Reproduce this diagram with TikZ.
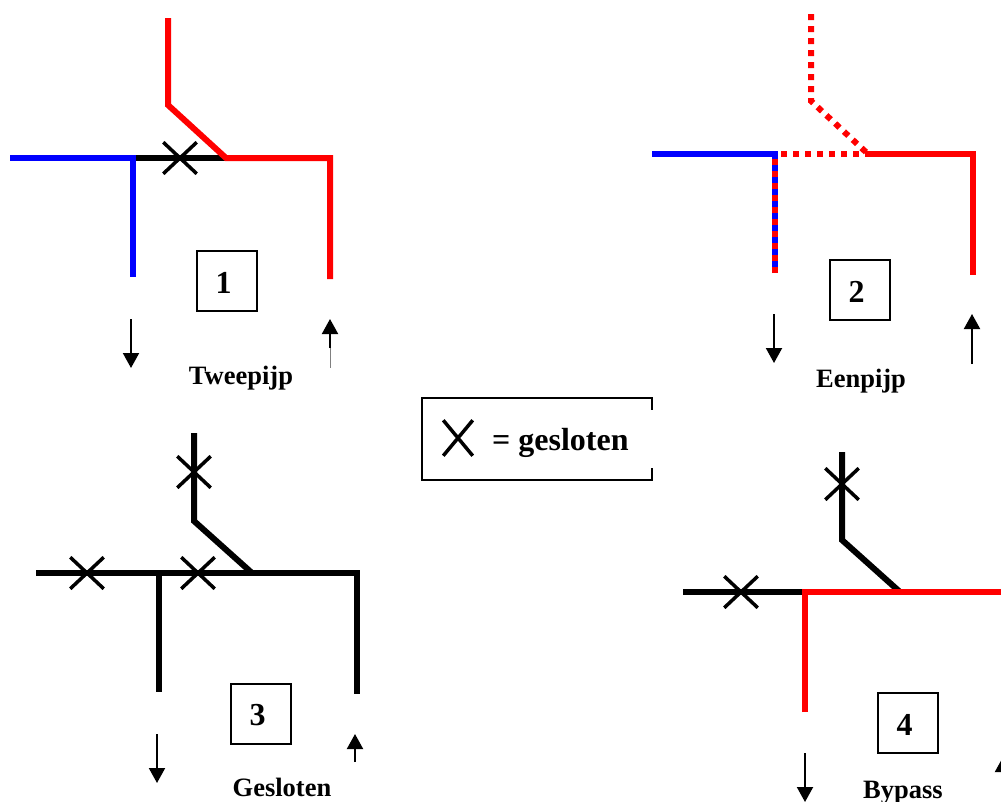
\documentclass[tikz,border=0pt]{standalone}
\usepackage{fontspec}
\setmainfont{Liberation Serif}
\usetikzlibrary{arrows.meta, shapes.misc, calc}
\tikzset{
    pipe/.style = {line width=6pt},
    pipe_blue/.style = {pipe, draw=blue},
    pipe_red/.style = {pipe, draw=red},
    pipe_black/.style = {pipe, draw=black},
    pipe_dots/.style = {pipe, draw=red, dash pattern=on 6pt off 6pt},
    flow/.style = {->, line width=2pt, draw=black},
    closed/.style = {cross out, draw=black, line width=3.5pt, inner sep=0pt,
        minimum width=30pt, minimum height=28pt},
    numbox/.style = {draw=black, line width=2pt, inner sep=0pt, minimum size=60pt,
        text height=24pt, execute at end node=\hspace{7pt},
        font=\fontsize{32}{36}\selectfont\bfseries},
    caption/.style = {anchor=base, inner sep=0pt,
        font=\fontsize{26.5}{30}\selectfont\bfseries},
}

\begin{document}
\begin{tikzpicture}[x=1pt,y=-1pt,>={Triangle[width=16pt,length=15pt]}]
            \useasboundingbox (0,0) rectangle (1001,801);
            % 1
            \coordinate (a_in) at (10,158);
            \coordinate (a_t) at (133,158);
            \coordinate (a_out) at (133,277);
            \coordinate (a_top) at (168,18);
            \coordinate (a_bend) at (168,105);
            \coordinate (a_j) at (226,158);
            \coordinate (a_c) at (330,158);
            \coordinate (a_ret) at (330,279);
            \draw [pipe_black] (a_t) -- (a_j);
            \draw [pipe_blue] (a_in) -- (a_t) -- (a_out);
            \draw [pipe_red] (a_top) -- (a_bend) -- (a_j) -- (a_c) -- (a_ret);
            \node (a_x) [closed] at (180,158) {};
            \node (a_box) [numbox] at (227,281) {1};
            \node (a_cap) [caption] at (241,384) {Tweepijp};
            \coordinate (a_d0) at (131,319);
            \coordinate (a_d1) at (131,368);
            \coordinate (a_u0) at (330,348);
            \coordinate (a_u1) at (330,319);
            \coordinate (a_u2) at (330,368);
            \draw [flow] (a_d0) -- (a_d1);
            \draw [flow] (a_u0) -- (a_u1);
            \draw [line width=0.7pt, draw=gray] (a_u0) -- (a_u2);
            % 2
            \coordinate (b_in) at (652,154);
            \coordinate (b_t) at (775,154);
            \coordinate (b_out) at (775,273);
            \coordinate (b_top) at (811,14);
            \coordinate (b_bend) at (811,101);
            \coordinate (b_j) at (868,154);
            \coordinate (b_c) at (973,154);
            \coordinate (b_ret) at (973,275);
            \draw [pipe_blue] (b_t) -- (b_out);
            \draw [pipe_dots] (b_out) -- (b_t);
            \draw [pipe_blue] (b_in) -- ($(b_t)+(3,0)$);
            \draw [pipe_dots, dash phase=6pt] (b_t) -- (b_j);
            \draw [pipe_dots] (b_top) -- (b_bend) -- (b_j);
            \draw [pipe_red] (b_j) -- (b_c) -- (b_ret);
            \node (b_box) [numbox] at (860,290) {2};
            \node (b_cap) [caption] at (861,387) {Eenpijp};
            \coordinate (b_d0) at (774,314);
            \coordinate (b_d1) at (774,363);
            \coordinate (b_u0) at (972,364);
            \coordinate (b_u1) at (972,314);
            \draw [flow] (b_d0) -- (b_d1);
            \draw [flow] (b_u0) -- (b_u1);
            % legend
            \node (leg) [minimum width=230pt, minimum height=82pt, inner sep=0pt] at (537,439) {};
            \draw [line width=2pt] ($(leg.north east)+(0,12)$) -- (leg.north east) -- (leg.north west)
                -- (leg.south west) -- (leg.south east) -- ($(leg.south east)+(0,-12)$);
            \node (leg_x) [closed, minimum width=26pt, minimum height=32pt] at (458,438) {};
            \node (leg_txt) [anchor=base west, inner sep=0pt, font=\fontsize{32}{36}\selectfont\bfseries] at (492,450) {= gesloten};
            % 3
            \coordinate (c_in) at (36,573);
            \coordinate (c_t) at (159,573);
            \coordinate (c_out) at (159,692);
            \coordinate (c_top) at (194,433);
            \coordinate (c_bend) at (194,521);
            \coordinate (c_j) at (252,573);
            \coordinate (c_c) at (357,573);
            \coordinate (c_ret) at (357,694);
            \draw [pipe_black] (c_in) -- (c_c) -- (c_ret);
            \draw [pipe_black] (c_t) -- (c_out);
            \draw [pipe_black] (c_top) -- (c_bend) -- (c_j);
            \node (c_x1) [closed] at (87,573) {};
            \node (c_x2) [closed] at (198,573) {};
            \node (c_x3) [closed] at (194,472) {};
            \node (c_box) [numbox] at (261,714) {3};
            \node (c_cap) [caption] at (282,796) {Gesloten};
            \coordinate (c_d0) at (157,734);
            \coordinate (c_d1) at (157,783);
            \coordinate (c_u0) at (355,762);
            \coordinate (c_u1) at (355,734);
            \draw [flow] (c_d0) -- (c_d1);
            \draw [flow] (c_u0) -- (c_u1);
            % 4
            \coordinate (d_in) at (683,592);
            \coordinate (d_t) at (805,592);
            \coordinate (d_out) at (805,712);
            \coordinate (d_top) at (842,452);
            \coordinate (d_bend) at (842,540);
            \coordinate (d_j) at (900,592);
            \coordinate (d_c) at (1004,592);
            \coordinate (d_ret) at (1004,712);
            \draw [pipe_black] (d_in) -- (d_t);
            \draw [pipe_black] (d_top) -- (d_bend) -- (d_j);
            \draw [pipe_red] (d_out) -- (d_t) -- (d_c) -- (d_ret);
            \node (d_x1) [closed] at (741,592) {};
            \node (d_x2) [closed] at (842,484) {};
            \node (d_box) [numbox] at (908,723) {4};
            \node (d_cap) [caption] at (903,798) {Bypass};
            \coordinate (d_d0) at (805,753);
            \coordinate (d_d1) at (805,802);
            \coordinate (d_u0) at (1003,807);
            \coordinate (d_u1) at (1003,757);
            \draw [flow] (d_d0) -- (d_d1);
            \draw [flow] (d_u0) -- (d_u1);
            \end{tikzpicture}
\end{document}
